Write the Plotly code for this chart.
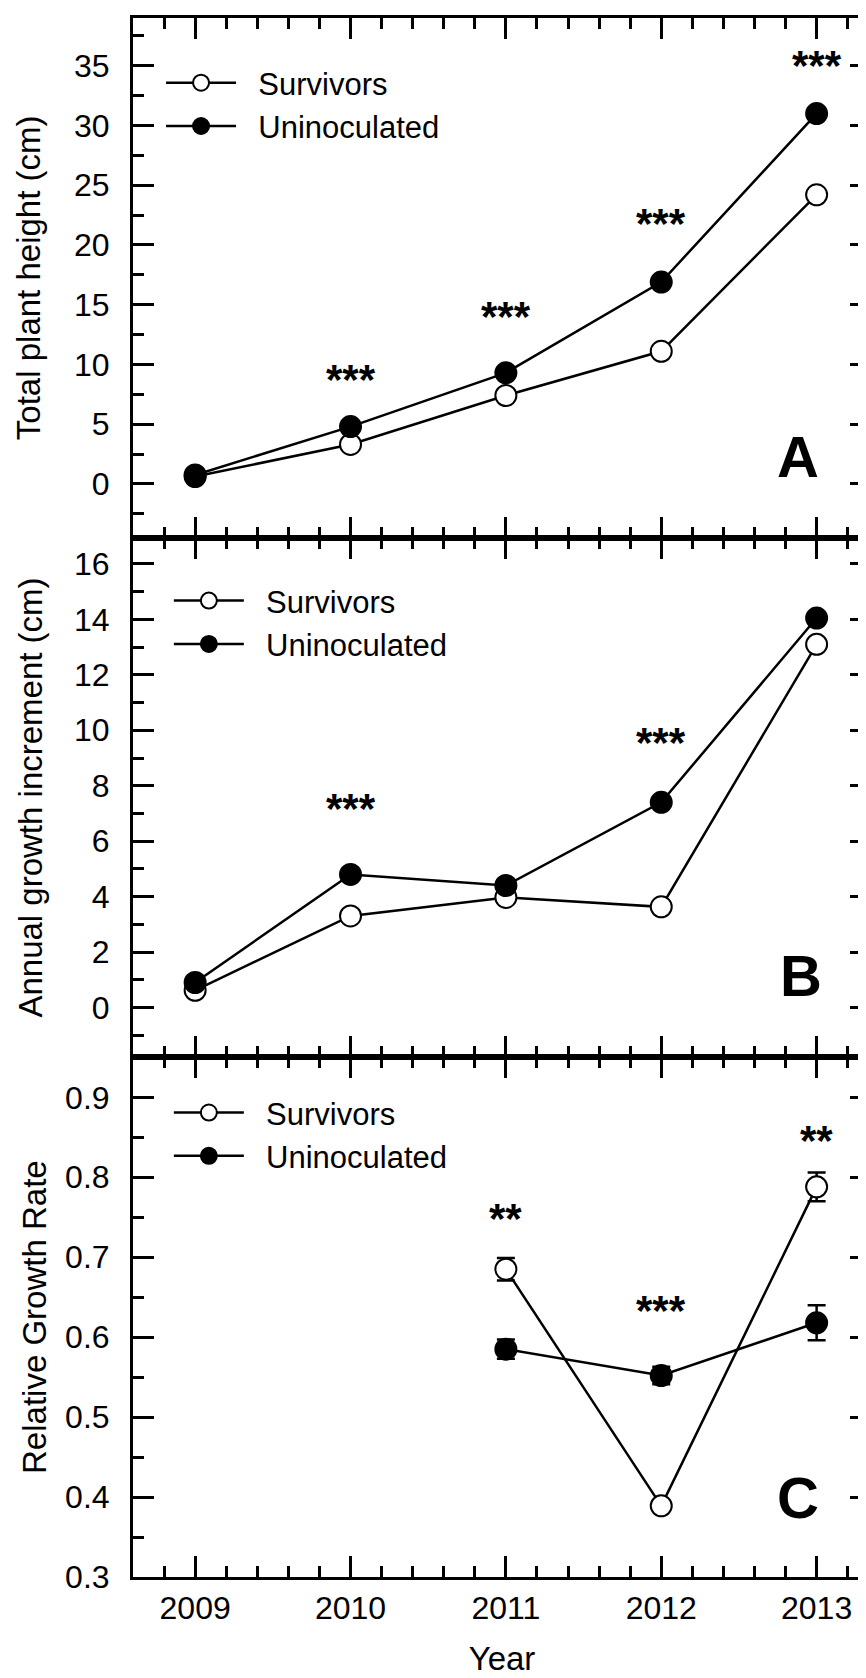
import plotly.graph_objects as go
from plotly.subplots import make_subplots

# ---------------- data ----------------
years = [2009, 2010, 2011, 2012, 2013]
year_labels = ["2009", "2010", "2011", "2012", "2013"]

height_surv = [0.62, 3.3, 7.4, 11.1, 24.2]
height_unin = [0.75, 4.8, 9.3, 16.9, 31.0]

incr_surv = [0.62, 3.3, 3.97, 3.63, 13.1]
incr_unin = [0.9, 4.8, 4.4, 7.4, 14.05]

rgr_years = [2011, 2012, 2013]
rgr_surv = [0.685, 0.389, 0.788]
rgr_surv_err = [0.014, 0.006, 0.018]
rgr_unin = [0.585, 0.552, 0.618]
rgr_unin_err = [0.012, 0.011, 0.022]

sigA_years = [2010, 2011, 2012, 2013]
sigA_y = [9.5, 14.75, 22.55, 35.8]
sigA_text = ["***", "***", "***", "***"]

sigB_years = [2010, 2012]
sigB_y = [7.5, 9.9]
sigB_text = ["***", "***"]

sigC_years = [2011, 2012, 2013]
sigC_y = [0.76, 0.644, 0.857]
sigC_text = ["**", "***", "**"]

panel_letters = ["A", "B", "C"]
letter_x = [2012.88, 2012.9, 2012.88]
letter_y = [2.3, 1.15, 0.399]

y_titles = ["Total plant height (cm)", "Annual growth increment (cm)", "Relative Growth Rate"]
x_title = "Year"
series_names = ["Survivors", "Uninoculated"]

# ---------------- figure ----------------
FONT = "Liberation Sans, Arial, Helvetica, sans-serif"
fig = make_subplots(rows=3, cols=1, vertical_spacing=0)

line_style = dict(color="black", width=2.5)
surv_marker = dict(symbol="circle", size=21, color="white", line=dict(color="black", width=2))
unin_marker = dict(symbol="circle", size=21, color="black", line=dict(color="black", width=2))

GAP = "\u00a0\u00a0"  # visual gap between legend symbol and label
legends = ["legend", "legend2", "legend3"]
panels = [
    (years, height_surv, None, height_unin, None),
    (years, incr_surv, None, incr_unin, None),
    (rgr_years, rgr_surv, rgr_surv_err, rgr_unin, rgr_unin_err),
]
for i, (xs, s, se, u, ue) in enumerate(panels):
    row = i + 1
    fig.add_trace(go.Scatter(
        x=xs, y=s, name=GAP + series_names[0], mode="lines+markers",
        line=line_style, marker=surv_marker, legend=legends[i],
        error_y=None if se is None else dict(type="data", array=se, color="black", thickness=2.5, width=9),
    ), row=row, col=1)
    fig.add_trace(go.Scatter(
        x=xs, y=u, name=GAP + series_names[1], mode="lines+markers",
        line=line_style, marker=unin_marker, legend=legends[i],
        error_y=None if ue is None else dict(type="data", array=ue, color="black", thickness=2.5, width=9),
    ), row=row, col=1)

axis_common = dict(
    showline=True, linewidth=3, linecolor="black", mirror="ticks",
    ticks="inside", ticklen=21, tickwidth=3, tickcolor="black",
    showgrid=False, zeroline=False,
    tickfont=dict(family=FONT, size=32, color="black"),
)

for row in (1, 2, 3):
    fig.update_xaxes(
        range=[2008.6, 2013.35], tickmode="array", tickvals=years, ticktext=year_labels,
        minor=dict(ticks="inside", ticklen=11, tickwidth=3, tickcolor="black",
                   tick0=2009, dtick=0.2, showgrid=False),
        showticklabels=(row == 3),
        row=row, col=1, **axis_common,
    )

fig.update_xaxes(ticklabelstandoff=1,
                 title=dict(text=x_title, font=dict(family=FONT, size=33, color="black"), standoff=22),
                 row=3, col=1)

y_specs = [
    dict(range=[-4.5, 39], tick0=0, dtick=5, minor_dtick=2.5, fmt=None, standoff=24),
    dict(range=[-1.8, 16.95], tick0=0, dtick=2, minor_dtick=1, fmt=None, standoff=22),
    dict(range=[0.3, 0.95], tick0=0.3, dtick=0.1, minor_dtick=0.05, fmt=".1f", standoff=9),
]
for i, spec in enumerate(y_specs):
    fig.update_yaxes(
        range=spec["range"], tickmode="linear", tick0=spec["tick0"], dtick=spec["dtick"],
        minor=dict(ticks="inside", ticklen=11, tickwidth=3, tickcolor="black",
                   tick0=spec["tick0"], dtick=spec["minor_dtick"], showgrid=False),
        ticklabelstandoff=14,
        title=dict(text=y_titles[i], font=dict(family=FONT, size=33, color="black"),
                   standoff=spec["standoff"]),
        row=i + 1, col=1, **axis_common,
    )
    if spec["fmt"]:
        fig.update_yaxes(tickformat=spec["fmt"], row=i + 1, col=1)

# significance stars and panel letters
sigs = [(sigA_years, sigA_y, sigA_text), (sigB_years, sigB_y, sigB_text), (sigC_years, sigC_y, sigC_text)]
for i, (xs, ys, ts) in enumerate(sigs):
    xref = "x" if i == 0 else f"x{i+1}"
    yref = "y" if i == 0 else f"y{i+1}"
    for xv, yv, t in zip(xs, ys, ts):
        fig.add_annotation(x=xv, y=yv, xref=xref, yref=yref, text=f"<b>{t}</b>", showarrow=False,
                           font=dict(family=FONT, size=42, color="black"),
                           xanchor="center", yanchor="middle", yshift=-9)
    fig.add_annotation(x=letter_x[i], y=letter_y[i], xref=xref, yref=yref,
                       text=f"<b>{panel_letters[i]}</b>", showarrow=False,
                       font=dict(family=FONT, size=58, color="black"),
                       xanchor="center", yanchor="middle")

legend_common = dict(
    xanchor="left", yanchor="top", bgcolor="rgba(0,0,0,0)", borderwidth=0,
    font=dict(family=FONT, size=31, color="black"), itemwidth=70, tracegroupgap=0,
)
fig.update_layout(
    width=866, height=1678,
    margin=dict(l=125, r=0, t=10, b=109),
    plot_bgcolor="white", paper_bgcolor="white",
    font=dict(family=FONT, size=32, color="black"),
    legend=dict(x=0.038, y=0.9756, **legend_common),
    legend2=dict(x=0.0486, y=0.6434, **legend_common),
    legend3=dict(x=0.0486, y=0.315, **legend_common),
)

fig.write_html("out.html")
